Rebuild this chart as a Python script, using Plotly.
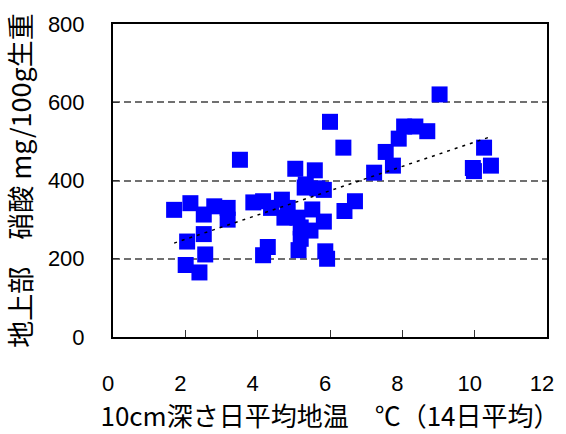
import numpy as np
import plotly.graph_objects as go

# soil temperature at 10 cm depth (14-day mean, deg C)
soil_temp = [1.69, 2.14, 2.51, 2.80, 3.17, 3.17, 2.05, 2.51, 2.55, 2.01, 2.39, 3.51,
             3.88, 4.15, 4.37, 4.67, 4.83, 4.74, 5.10, 4.28, 4.15,
             5.04, 5.58, 5.33, 5.30, 5.65, 5.83,
             5.51, 5.83, 5.19, 5.46, 5.19, 5.13, 5.87, 5.92,
             6.00, 6.37, 6.69, 6.40,
             7.22, 7.74, 7.54, 7.90, 8.05, 8.36, 8.69, 9.03, 9.98, 9.95, 10.26, 10.45]
# nitrate in above-ground part (mg / 100 g fresh weight)
nitrate = [325, 342, 313, 334, 330, 300, 244, 263, 211, 184, 165, 453,
           344, 347, 330, 351, 330, 305, 305, 230, 209,
           430, 426, 390, 382, 380, 376,
           326, 295, 280, 272, 251, 222, 219, 200,
           550, 484, 347, 322,
           420, 438, 473, 507, 538, 538, 526, 620, 424, 432, 484, 438]

x_ticks = [0, 2, 4, 6, 8, 10, 12]
y_ticks = [0, 200, 400, 600, 800]
x_title = "10cm深さ日平均地温　℃（14日平均）"
y_title = "地上部　硝酸 mg/100g生重"

xa = np.array(soil_temp)
ya = np.array(nitrate)
slope, intercept = np.polyfit(xa, ya, 1)
trend_x = np.array([xa.min(), xa.max()])
trend_y = slope * trend_x + intercept

fig = go.Figure()
fig.add_trace(go.Scatter(
    x=soil_temp, y=nitrate, mode="markers",
    marker=dict(symbol="square", size=16, color="#0000FF", line=dict(width=0)),
    showlegend=False, hoverinfo="skip"))
fig.add_trace(go.Scatter(
    x=trend_x, y=trend_y, mode="lines",
    line=dict(color="black", width=1.5, dash="3px,5px"),
    showlegend=False, hoverinfo="skip"))

tick_font = dict(family="Liberation Sans, Arial, sans-serif", size=22, color="black")
cjk = "Noto Sans CJK JP, sans-serif"

fig.update_layout(
    width=566, height=434,
    margin=dict(l=113, r=13, t=17, b=97),
    paper_bgcolor="white", plot_bgcolor="white",
    xaxis=dict(range=[0, 12], tickvals=x_ticks, ticktext=[str(v) for v in x_ticks],
               showgrid=False, zeroline=False,
               showline=True, mirror=True, linecolor="black", linewidth=2,
               ticks="inside", ticklen=7, tickwidth=1, tickcolor="#333",
               tickfont=tick_font, ticklabelstandoff=26, ticklabelshift=-5,
               title=dict(text=x_title, font=dict(family=cjk, size=26, color="black"),
                          standoff=6)),
    yaxis=dict(range=[0, 800], tickvals=y_ticks, ticktext=[str(v) for v in y_ticks],
               showgrid=True, gridcolor="#707070", gridwidth=1.5, griddash="7px,4px",
               zeroline=False,
               showline=True, mirror=True, linecolor="black", linewidth=2,
               ticks="inside", ticklen=6, tickwidth=1, tickcolor="#333",
               tickfont=tick_font, ticklabelstandoff=22,
               title=dict(text=y_title, font=dict(family=cjk, size=27, color="black"),
                          standoff=14)),
)

fig.write_html("out.html")
